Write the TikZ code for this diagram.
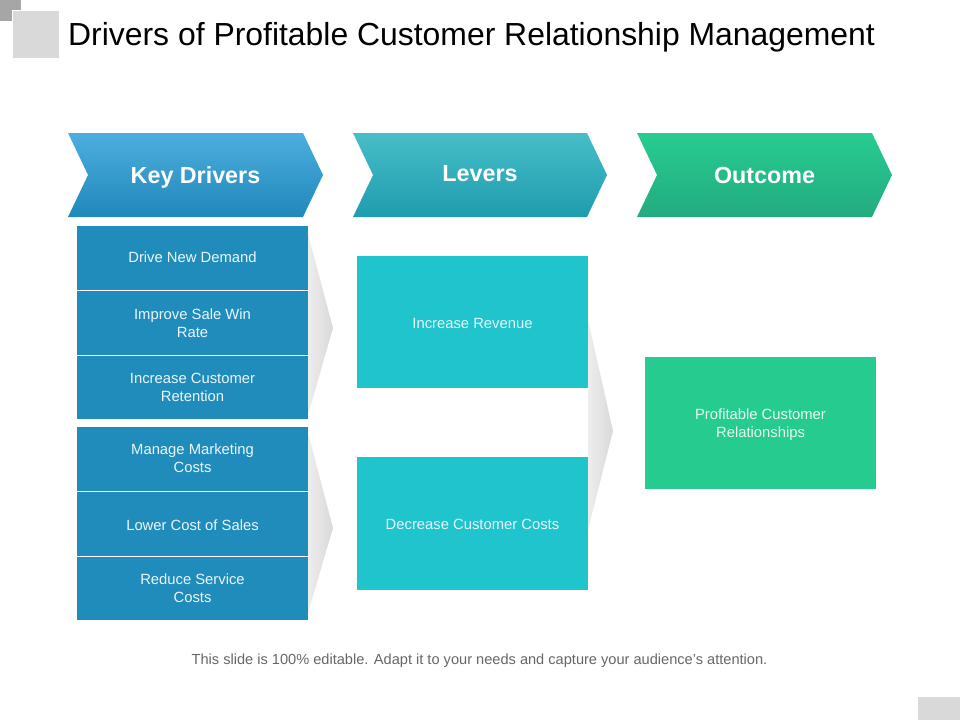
\documentclass[tikz,border=0pt]{standalone}
\usepackage{fontspec}
\setmainfont{Liberation Sans}
\usepackage{xcolor}
\usetikzlibrary{positioning, shapes.symbols}
\definecolor{cellblue}{HTML}{1F8CBB}
\definecolor{boxteal}{HTML}{20C4CC}
\definecolor{boxgreen}{HTML}{26CB8F}
\definecolor{squaregray}{HTML}{D9D9D9}
\definecolor{keytop}{HTML}{4CAEDE}
\definecolor{keybottom}{HTML}{2088BB}
\definecolor{levertop}{HTML}{47BEC8}
\definecolor{leverbottom}{HTML}{1F9CAE}
\definecolor{outtop}{HTML}{27CC90}
\definecolor{outbottom}{HTML}{23AB80}
\newcommand{\nudge}[2]{\raisebox{#1}[\height][\depth]{#2}}
\tikzset{
  header/.style={signal, signal from=west, signal to=east, signal pointer angle=129,
    minimum width=255pt, minimum height=84pt, inner sep=0pt, outer sep=0pt,
    text height=17pt, text depth=0pt,
    text=white, font=\fontsize{23.3}{28}\selectfont\bfseries},
  cell/.style={fill=cellblue, text=white!92!cellblue, minimum width=231pt, minimum height=64pt,
    inner sep=0pt, outer sep=0pt, align=center, font=\fontsize{14.8}{18}\selectfont},
  result/.style={minimum width=231pt, minimum height=132pt, inner sep=0pt, outer sep=0pt,
    text=white!88!boxteal, align=center, font=\fontsize{14.8}{18}\selectfont},
  square/.style={fill=squaregray, inner sep=0pt, outer sep=0pt},
  pointer/.style={left color=gray!14, right color=gray!30}
}
\begin{document}
\begin{tikzpicture}[x=1pt,y=-1pt,node distance=1pt]
    \useasboundingbox (0,0) rectangle (960,720);
    % Ecken
    \node[square, fill=gray!70, minimum width=21pt, minimum height=21pt] (cornerdark) at (10.5,10.5) {};
    \node[square, draw=white, minimum width=47pt, minimum height=48pt] (cornerlight) at (35.5,34) {};
    \node[square, minimum width=42pt, minimum height=23pt] (cornerfoot) at (939,708.5) {};

    % Titel
    \node[anchor=west, inner sep=0pt, font=\fontsize{31.9}{38}\selectfont] (title) at (68,37) {Drivers of Profitable Customer Relationship Management};

    % Kopfzeile
    \node[header, top color=keytop, bottom color=keybottom] (keydrivers) at (195.5,175) {Key Drivers};
    \node[header, minimum width=254pt, top color=levertop, bottom color=leverbottom] (levers) at (480,175) {\nudge{2pt}{Levers}};
    \node[header, top color=outtop, bottom color=outbottom] (outcome) at (764.5,175) {Outcome};

    % Treiber
    \node[cell] (demand) at (192.5,258) {\nudge{1pt}{Drive New Demand}};
    \node[cell, below=of demand] (winrate) {Improve Sale Win\\Rate};
    \node[cell, below=of winrate, minimum height=63pt] (retention) {Increase Customer\\Retention};
    \node[cell] (marketing) at (192.5,459) {\nudge{1pt}{Manage Marketing}\\\nudge{1pt}{Costs}};
    \node[cell, below=of marketing] (sales) {\nudge{-1pt}{Lower Cost of Sales}};
    \node[cell, below=of sales, minimum height=63pt] (service) {Reduce Service\\Costs};

    % Hebel
    \node[result, fill=boxteal] (revenue) at (472.5,322) {\nudge{-1pt}{Increase Revenue}};
    \node[result, fill=boxteal, minimum height=133pt] (costs) at (472.5,523.5) {\nudge{-1pt}{Decrease Customer Costs}};

    % Ergebnis
    \node[result, fill=boxgreen, text=white!88!boxgreen] (relationships) at (760.5,423) {\nudge{-2pt}{Profitable Customer}\\\nudge{-2pt}{Relationships}};

    % Pfeile
    \shade[pointer] (308,234) -- (333,328) -- (308,415) -- cycle;
    \shade[pointer] (308,433) -- (333,528) -- (308,613) -- cycle;
    \shade[pointer] (588,320) -- (613,431) -- (588,530) -- cycle;

    % Fusszeile
    \node[text=black!60, font=\fontsize{14.6}{16}\selectfont] (footer) at (479.5,661) {This slide is 100\% editable. Adapt it to your needs and capture your audience's attention.};
\end{tikzpicture}
\end{document}
